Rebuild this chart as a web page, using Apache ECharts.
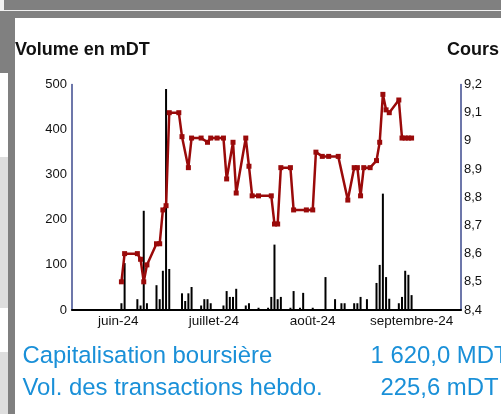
<!DOCTYPE html>
<html>
<head>
<meta charset="utf-8">
<script src="https://cdn.jsdelivr.net/npm/echarts@6/dist/echarts.min.js"></script>
<style>
  html, body { margin: 0; padding: 0; background: #ffffff; }
  #wrap { position: relative; width: 501px; height: 414px; overflow: hidden; background: #ffffff; }
  .bk { position: absolute; }
  #chart { position: absolute; left: 0; top: 0; width: 501px; height: 414px; }
</style>
</head>
<body>
<div id="wrap">
  <div class="bk" style="left:0;top:0;width:501px;height:9.5px;background:#808080"></div>
  <div class="bk" style="left:0;top:0;width:4px;height:9.5px;background:#f2f2f2"></div>
  <div class="bk" style="left:0;top:9.5px;width:501px;height:1.5px;background:#f0f0f0"></div>
  <div class="bk" style="left:0;top:11px;width:501px;height:7px;background:#808080"></div>
  <div class="bk" style="left:0;top:11px;width:15px;height:62px;background:#808080"></div>
  <div class="bk" style="left:8px;top:11px;width:7px;height:403px;background:#808080"></div>
  <div class="bk" style="left:0;top:157px;width:8px;height:151px;background:#dedede"></div>
  <div class="bk" style="left:0;top:352px;width:8px;height:62px;background:#dedede"></div>
  <div id="chart"></div>
</div>
<script>
// ---- data ----
const firstDay = '2024-05-18';
const lastDay = '2024-09-16';
const monthStarts = ['2024-06-01', '2024-07-01', '2024-08-01', '2024-09-01'];
const tickLabels = ['juin-24', 'juillet-24', 'août-24', 'septembre-24'];

const volDates = ['2024-06-02','2024-06-03','2024-06-07','2024-06-08','2024-06-09','2024-06-10',
  '2024-06-13','2024-06-14','2024-06-15','2024-06-16','2024-06-17','2024-06-21','2024-06-22',
  '2024-06-23','2024-06-24','2024-06-27','2024-06-28','2024-06-29','2024-06-30','2024-07-04',
  '2024-07-05','2024-07-06','2024-07-07','2024-07-08','2024-07-11','2024-07-12','2024-07-15',
  '2024-07-18','2024-07-19','2024-07-20','2024-07-21','2024-07-22','2024-07-25','2024-07-26',
  '2024-07-28','2024-07-29','2024-08-01','2024-08-05','2024-08-08','2024-08-10','2024-08-11',
  '2024-08-14','2024-08-15','2024-08-16','2024-08-18','2024-08-21','2024-08-22','2024-08-23',
  '2024-08-24','2024-08-25','2024-08-28','2024-08-29','2024-08-30','2024-08-31','2024-09-01'];
const volValues = [15,104,24,10,220,15,
  55,24,87,490,91,37,20,
  37,51,10,24,24,15,10,
  42,29,29,47,10,15,5,
  5,29,145,24,29,5,42,
  5,38,5,73,24,15,15,
  15,15,29,24,60,100,258,
  73,25,15,29,87,78,33];

const priceDates = ['2024-06-02','2024-06-03','2024-06-07','2024-06-08','2024-06-09','2024-06-10',
  '2024-06-13','2024-06-14','2024-06-15','2024-06-16','2024-06-17','2024-06-20','2024-06-21',
  '2024-06-23','2024-06-24','2024-06-27','2024-06-29','2024-06-30','2024-07-02','2024-07-04',
  '2024-07-05','2024-07-07','2024-07-08','2024-07-11','2024-07-12','2024-07-13','2024-07-15',
  '2024-07-19','2024-07-20','2024-07-21','2024-07-22','2024-07-25','2024-07-26','2024-07-30',
  '2024-08-01','2024-08-02','2024-08-04','2024-08-06','2024-08-09','2024-08-12','2024-08-14',
  '2024-08-15','2024-08-16','2024-08-17','2024-08-19','2024-08-21','2024-08-22','2024-08-23',
  '2024-08-24','2024-08-25','2024-08-28','2024-08-29','2024-08-30','2024-08-31','2024-09-01'];
const priceValues = [8.50,8.60,8.60,8.58,8.50,8.56,
  8.635,8.635,8.755,8.77,9.10,9.10,9.015,
  8.905,9.01,9.01,8.995,9.01,9.01,9.01,
  8.865,8.995,8.815,9.01,8.91,8.805,8.805,
  8.805,8.705,8.705,8.905,8.905,8.755,8.755,
  8.755,8.96,8.945,8.945,8.945,8.79,8.905,
  8.905,8.805,8.905,8.905,8.93,8.995,9.165,
  9.11,9.10,9.145,9.01,9.01,9.01,9.01];

const leftTitle = 'Volume en mDT';
const rightTitle = 'Cours';
const infoLabels = ['Capitalisation boursière', 'Vol. des transactions hebdo.'];
const infoValues = ['1 620,0 MDT', '225,6 mDT'];

// ---- build the calendar-day category axis ----
function pad(n) { return (n < 10 ? '0' : '') + n; }
const days = [];
{
  const d = new Date(firstDay + 'T00:00:00Z');
  const end = new Date(lastDay + 'T00:00:00Z');
  while (d <= end) {
    days.push(d.getUTCFullYear() + '-' + pad(d.getUTCMonth() + 1) + '-' + pad(d.getUTCDate()));
    d.setUTCDate(d.getUTCDate() + 1);
  }
}
const volMap = {}; volDates.forEach((k, i) => volMap[k] = volValues[i]);
const priceMap = {}; priceDates.forEach((k, i) => priceMap[k] = priceValues[i]);
const volSeries = days.map(k => (k in volMap ? volMap[k] : null));
const priceSeries = days.map(k => (k in priceMap ? priceMap[k] : null));

const FONT = '"Liberation Sans", Arial, sans-serif';
const chart = echarts.init(document.getElementById('chart'), null, { renderer: 'canvas' });
chart.setOption({
  animation: false,
  backgroundColor: 'transparent',
  grid: { left: 72, right: 40, top: 84.5, bottom: 104, containLabel: false },
  xAxis: {
    type: 'category',
    data: days,
    boundaryGap: true,
    axisLine: { show: true, lineStyle: { color: '#000', width: 2 } },
    axisTick: { show: false },
    splitLine: { show: false },
    axisLabel: {
      interval: (idx, val) => monthStarts.indexOf(val) >= 0,
      formatter: val => tickLabels[monthStarts.indexOf(val)] || '',
      color: '#111', fontSize: 13.5, fontFamily: FONT, margin: 4.5
    }
  },
  yAxis: [
    {
      type: 'value', position: 'left', min: 0, max: 500, interval: 100,
      axisLine: { show: true, lineStyle: { color: '#3d4a8e', width: 1.5 } },
      axisTick: { show: false },
      splitLine: { show: false },
      axisLabel: { color: '#111', fontSize: 13, fontFamily: FONT, margin: 5 }
    },
    {
      type: 'value', position: 'right', min: 8.4, max: 9.2, interval: 0.1,
      axisLine: { show: true, lineStyle: { color: '#3d4a8e', width: 1.5 } },
      axisTick: { show: false },
      splitLine: { show: false },
      axisLabel: {
        color: '#111', fontSize: 13, fontFamily: FONT, margin: 3,
        formatter: v => String(+(+v).toFixed(1)).replace('.', ',')
      }
    }
  ],
  series: [
    {
      type: 'bar', yAxisIndex: 0, data: volSeries, barWidth: 2,
      itemStyle: { color: '#000' }, z: 2
    },
    {
      type: 'line', yAxisIndex: 1, data: priceSeries, connectNulls: true,
      symbol: 'rect', symbolSize: 5, showSymbol: true, showAllSymbol: true,
      lineStyle: { color: '#9a0a0a', width: 2.5 },
      itemStyle: { color: '#9a0a0a' }, z: 3
    }
  ],
  graphic: [
    { type: 'text', left: 15, top: 41, style: { text: leftTitle, font: 'bold 18px ' + FONT, fill: '#111' } },
    { type: 'text', left: 447, top: 41, style: { text: rightTitle, font: 'bold 18px ' + FONT, fill: '#111' } },
    { type: 'text', x: 22.5, y: 356.5, style: { text: infoLabels[0], font: '23.9px ' + FONT, fill: '#1a90d8', verticalAlign: 'middle', align: 'left' } },
    { type: 'text', x: 22.5, y: 388.5, style: { text: infoLabels[1], font: '23.9px ' + FONT, fill: '#1a90d8', verticalAlign: 'middle', align: 'left' } },
    { type: 'text', x: 439.5, y: 356.5, style: { text: infoValues[0], font: '23.9px ' + FONT, fill: '#1a90d8', verticalAlign: 'middle', align: 'center' } },
    { type: 'text', x: 439.5, y: 388.5, style: { text: infoValues[1], font: '23.9px ' + FONT, fill: '#1a90d8', verticalAlign: 'middle', align: 'center' } }
  ]
});
</script>
</body>
</html>
